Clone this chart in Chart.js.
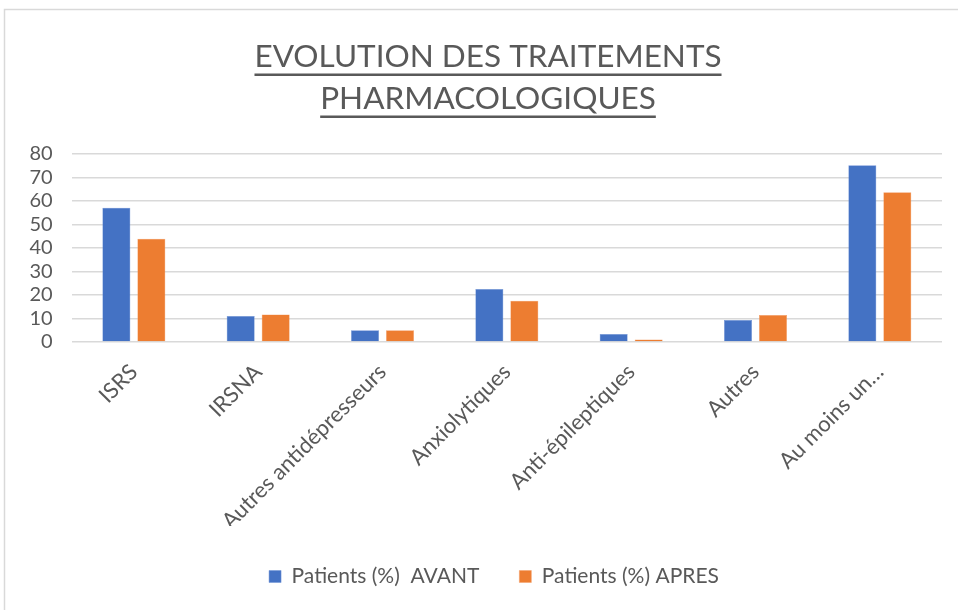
<!DOCTYPE html>
<html>
<head>
<meta charset="utf-8">
<script src="https://cdn.jsdelivr.net/npm/chart.js@4"></script>
<style>
html,body{margin:0;padding:0;background:#fff;}
#wrap{position:absolute;left:0;top:0;width:958px;height:610px;}
</style>
</head>
<body>
<div id="wrap"><canvas id="c" width="958" height="610"></canvas></div>
<script>
const categories = ["ISRS", "IRSNA", "Autres antidépresseurs", "Anxiolytiques", "Anti-épileptiques", "Autres", "Au moins un…"];
const avant = [57.1, 11.1, 5.0, 22.6, 3.4, 9.4, 75.2];
const apres = [43.9, 11.7, 5.0, 17.5, 1.1, 11.5, 63.7];
const seriesNames = ["Patients (%)  AVANT", "Patients (%) APRES"];
const titleLines = ["EVOLUTION DES TRAITEMENTS", "PHARMACOLOGIQUES"];
const yTicks = [0, 10, 20, 30, 40, 50, 60, 70, 80];

const FONT = "Lato, 'Open Sans', sans-serif";
const GREY = "#595959";

const frame = {
  id: 'frame',
  afterLayout(chart) {
    if (chart.titleBlock) chart.titleBlock.left += 34;
    if (chart.legend) chart.legend.left += 46;
  },
  beforeDraw(chart) {
    const ctx = chart.ctx;
    ctx.save();
    ctx.fillStyle = '#fff';
    ctx.fillRect(0, 0, chart.width, chart.height);
    ctx.strokeStyle = '#d9d9d9';
    ctx.lineWidth = 1.5;
    ctx.strokeRect(4.5, 9.5, 960, 610);
    ctx.restore();
  },
  afterDraw(chart) {
    const tb = chart.titleBlock;
    if (!tb) return;
    const ctx = chart.ctx;
    const o = tb.options;
    const size = o.font.size;
    const lh = size * o.font.lineHeight;
    ctx.save();
    ctx.font = `${o.font.weight || 'normal'} ${size}px ${FONT}`;
    ctx.strokeStyle = GREY;
    ctx.lineWidth = 2.5;
    const center = (tb.left + tb.right) / 2;
    titleLines.forEach((t, i) => {
      const w = ctx.measureText(t).width;
      const y = tb.top + o.padding.top + lh / 2 + i * lh + size * 0.5 + 2;
      ctx.beginPath();
      ctx.moveTo(center - w / 2, y);
      ctx.lineTo(center + w / 2, y);
      ctx.stroke();
    });
    ctx.restore();
  }
};

new Chart(document.getElementById('c'), {
  type: 'bar',
  data: {
    labels: categories,
    datasets: [
      { label: seriesNames[0], data: avant, backgroundColor: '#4472C4', borderColor: '#6f93d6', borderWidth: 0.5,
        categoryPercentage: 0.563, barPercentage: 0.8 },
      { label: seriesNames[1], data: apres, backgroundColor: '#ED7D31', borderColor: '#f4a06a', borderWidth: 0.5,
        categoryPercentage: 0.563, barPercentage: 0.8 }
    ]
  },
  options: {
    responsive: false,
    animation: false,
    devicePixelRatio: 1,
    layout: { padding: { left: 0, right: 16, top: 36, bottom: 13 } },
    plugins: {
      title: {
        display: true,
        text: titleLines,
        color: GREY,
        font: { family: FONT, size: 31.5, weight: 'normal', lineHeight: 1.333 },
        padding: { top: 0, bottom: 34 }
      },
      legend: {
        position: 'bottom',
        labels: {
          color: GREY,
          font: { family: FONT, size: 21 },
          boxWidth: 12, boxHeight: 12,
          padding: 40
        }
      },
      tooltip: { enabled: false }
    },
    scales: {
      x: {
        afterFit(s) { s.height = 184; },
        grid: { display: false },
        border: { display: false },
        ticks: { color: GREY, font: { family: FONT, size: 22 }, minRotation: 45, maxRotation: 45, padding: 9, autoSkip: false }
      },
      y: {
        min: 0, max: 80,
        afterFit(s) { s.width = 71.7; },
        afterBuildTicks(s) { s.ticks = yTicks.map(v => ({ value: v })); },
        grid: { color: '#d9d9d9', lineWidth: 1.5, drawTicks: false },
        border: { display: false },
        ticks: { color: GREY, font: { family: FONT, size: 20 }, padding: 19, autoSkip: false }
      }
    }
  },
  plugins: [frame]
});
</script>
</body>
</html>
